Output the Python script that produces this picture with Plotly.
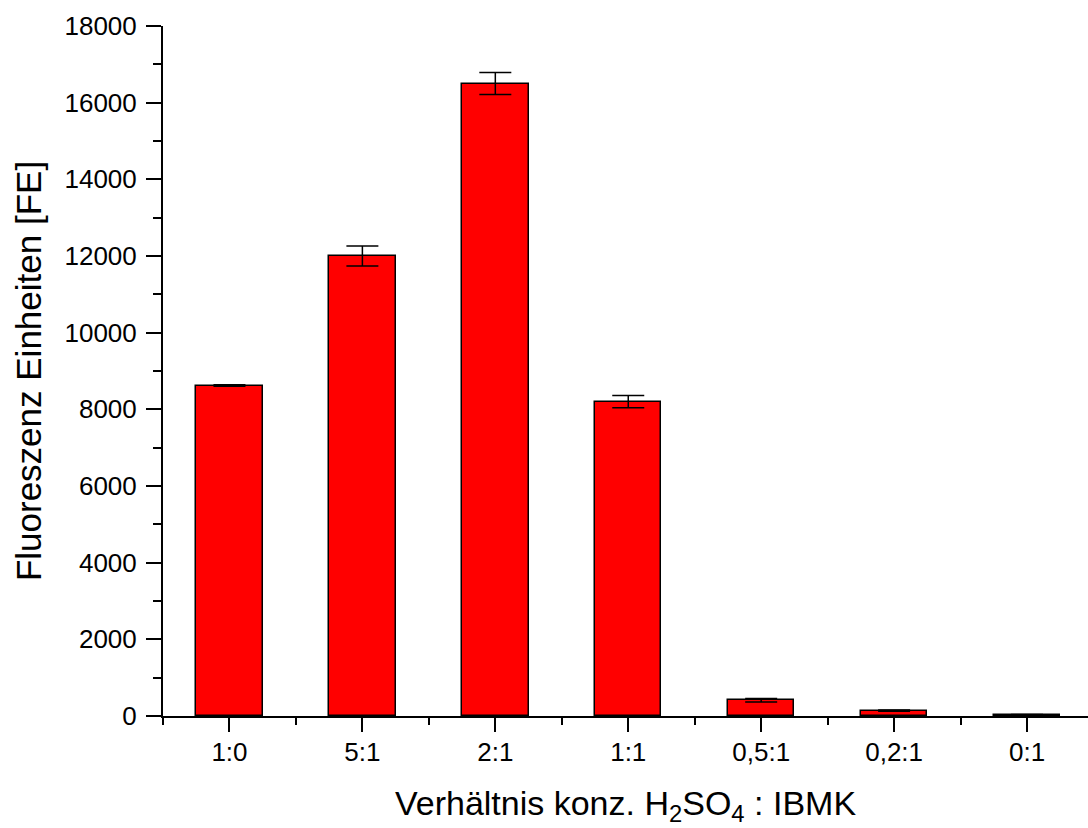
import plotly.graph_objects as go

categories = ["1:0", "5:1", "2:1", "1:1", "0,5:1", "0,2:1", "0:1"]
values = [8620, 12000, 16500, 8200, 410, 140, 30]
errors = [20, 260, 285, 160, 45, 15, 10]
y_tick_vals = [0, 2000, 4000, 6000, 8000, 10000, 12000, 14000, 16000, 18000]

x_pos = list(range(len(categories)))

FONT = "Liberation Sans, Arial, sans-serif"

fig = go.Figure()
fig.add_trace(go.Bar(
    x=x_pos, y=values, width=0.5,
    marker=dict(color="#FF0000", line=dict(color="black", width=1.5)),
    error_y=dict(type="data", array=errors, visible=True, color="black",
                 thickness=1.5, width=16),
))

fig.update_layout(
    width=1088, height=828,
    margin=dict(l=163, r=0, t=26, b=112),
    plot_bgcolor="white", paper_bgcolor="white",
    showlegend=False,
    font=dict(family=FONT, color="black"),
    bargap=0,
)
fig.update_xaxes(
    range=[-0.5, (1088 - 229) / 133.0], tickmode="array", tickvals=x_pos, ticktext=categories,
    showgrid=False, zeroline=False, showline=True, linecolor="black", linewidth=2,
    ticks="outside", ticklen=14, tickwidth=2, tickcolor="black",
    tickfont=dict(size=26, family=FONT), ticklabelstandoff=-2,
    minor=dict(tickmode="linear", tick0=-0.5, dtick=1, ticks="outside", ticklen=7,
               tickwidth=2, tickcolor="black", showgrid=False),
    title=dict(text="Verhältnis konz. H<sub>2</sub>SO<sub>4</sub> : IBMK",
               font=dict(size=34, family=FONT), standoff=25),
)
fig.update_yaxes(
    range=[0, 18000], tickmode="array", tickvals=y_tick_vals, tickformat="d",
    showgrid=False, zeroline=False, showline=True, linecolor="black", linewidth=2,
    ticks="outside", ticklen=15, tickwidth=2, tickcolor="black",
    tickfont=dict(size=26, family=FONT), ticklabelstandoff=4,
    minor=dict(tickmode="linear", tick0=0, dtick=1000, ticks="outside", ticklen=8,
               tickwidth=2, tickcolor="black", showgrid=False),
    title=dict(text="Fluoreszenz Einheiten [FE]", font=dict(size=35, family=FONT), standoff=12),
)

fig.write_html("out.html")
